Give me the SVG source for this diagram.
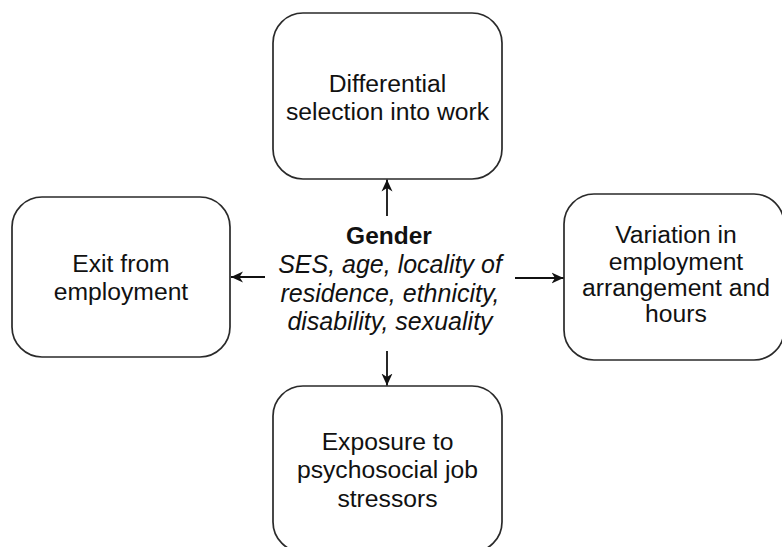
<svg xmlns="http://www.w3.org/2000/svg" width="782" height="547" viewBox="0 0 782 547">
  <defs>
    <style>
      .box { fill: #ffffff; stroke: #2a2a2a; stroke-width: 1.7; }
      .lbl { font-family: "Liberation Sans", Arial, sans-serif; font-size: 24.7px; fill: #111111; text-anchor: middle; }
      .bold { font-weight: bold; font-size: 24.5px; }
      .ital { font-style: italic; font-size: 25px; }
      .edge { stroke: #111111; stroke-width: 1.8; fill: none; marker-end: url(#arr); }
    </style>
    <marker id="arr" viewBox="0 0 12 12" refX="12" refY="6" markerWidth="12" markerHeight="12" markerUnits="userSpaceOnUse" orient="auto">
      <path d="M0,0.5 L12,6 L0,11.5 L3.5,6 Z" fill="#111111"/>
    </marker>
  </defs>
  <rect width="782" height="547" fill="#ffffff"/>

  <g id="node-top">
    <rect class="box" x="273" y="13" width="229" height="166" rx="30" ry="30"/>
    <text class="lbl" x="387.5" y="92">Differential</text>
    <text class="lbl" x="387.5" y="120">selection into work</text>
  </g>

  <g id="node-left">
    <rect class="box" x="12" y="197" width="218" height="160" rx="30" ry="30"/>
    <text class="lbl" x="121" y="272">Exit from</text>
    <text class="lbl" x="121" y="300">employment</text>
  </g>

  <g id="node-right">
    <rect class="box" x="564" y="194" width="220" height="166" rx="30" ry="30"/>
    <text class="lbl" x="676" y="243">Variation in</text>
    <text class="lbl" x="676" y="269.5">employment</text>
    <text class="lbl" x="676" y="296">arrangement and</text>
    <text class="lbl" x="676" y="322">hours</text>
  </g>

  <g id="node-bottom">
    <rect class="box" x="273" y="386" width="229" height="166" rx="30" ry="30"/>
    <text class="lbl" x="387.5" y="450">Exposure to</text>
    <text class="lbl" x="387.5" y="478">psychosocial job</text>
    <text class="lbl" x="387.5" y="507">stressors</text>
  </g>

  <g id="node-center">
    <text class="lbl bold" x="389" y="244">Gender</text>
    <text class="lbl ital" x="390" y="273">SES, age, locality of</text>
    <text class="lbl ital" x="390" y="302">residence, ethnicity,</text>
    <text class="lbl ital" x="390" y="330">disability, sexuality</text>
  </g>

  <g id="connectors">
    <line class="edge" x1="387" y1="216" x2="387" y2="179.5"/>
    <line class="edge" x1="265" y1="277" x2="231" y2="277"/>
    <line class="edge" x1="515" y1="278" x2="563.5" y2="278"/>
    <line class="edge" x1="387" y1="351" x2="387" y2="385.5"/>
  </g>
</svg>
